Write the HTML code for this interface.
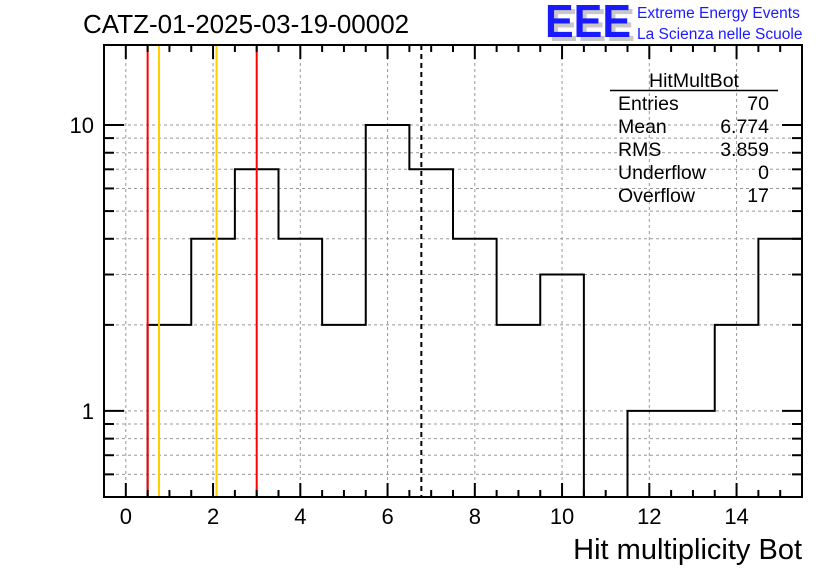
<!DOCTYPE html>
<html><head><meta charset="utf-8"><style>
html,body{margin:0;padding:0;background:#fff;}
svg{display:block;font-family:"Liberation Sans",sans-serif;}
</style></head><body>
<svg id="chart" width="836" height="572" viewBox="0 0 836 572">
<rect width="836" height="572" fill="#fff"/>
<text x="83" y="33" font-size="26">CATZ-01-2025-03-19-00002</text>
<g>
<text x="549" y="41" font-size="46" font-weight="bold" fill="#c8c8c8" textLength="86" lengthAdjust="spacingAndGlyphs">EEE</text>
<text x="545" y="37" font-size="46" font-weight="bold" fill="#1a1aff" textLength="86" lengthAdjust="spacingAndGlyphs">EEE</text>
<text x="637" y="18" font-size="15.5" fill="#1a1aff">Extreme Energy Events</text>
<text x="637" y="39" font-size="15.5" fill="#1a1aff">La Scienza nelle Scuole</text>
</g>
<g id="grid"></g>
<g id="marks"></g>
<g id="axes"></g>
<g font-size="19.5">
<text x="694" y="87" text-anchor="middle">HitMultBot</text>
<line x1="610" y1="90.5" x2="778" y2="90.5" stroke="#000" stroke-width="1.5"/>
<text x="618" y="110">Entries</text><text x="769" y="110" text-anchor="end">70</text>
<text x="618" y="133">Mean</text><text x="769" y="133" text-anchor="end">6.774</text>
<text x="618" y="156">RMS</text><text x="769" y="156" text-anchor="end">3.859</text>
<text x="618" y="179">Underflow</text><text x="769" y="179" text-anchor="end">0</text>
<text x="618" y="202">Overflow</text><text x="769" y="202" text-anchor="end">17</text>
</g>
<text x="802" y="559" font-size="29" text-anchor="end">Hit multiplicity Bot</text>
</svg>
<script>
const binCenters=[0,1,2,3,4,5,6,7,8,9,10,11,12,13,14,15];
const binCounts=[0,2,4,7,4,2,10,7,4,2,3,0,1,1,2,4];
const xTickLabels=[0,2,4,6,8,10,12,14];
const yTickLabels=[1,10];
const redLines=[0.5,3.0];
const yellowLines=[0.76,2.08];
const meanLine=[6.774];
const L=104,R=802,T=45,B=497,XMIN=-0.5,XMAX=15.5,YMIN=0.5,YMAX=19.05;
const NS='http://www.w3.org/2000/svg';
function X(v){return L+(v-XMIN)/(XMAX-XMIN)*(R-L);}
function Y(v){return B-(Math.log10(v)-Math.log10(YMIN))/(Math.log10(YMAX)-Math.log10(YMIN))*(B-T);}
function mk(tag,attrs,parent){const e=document.createElementNS(NS,tag);for(const k in attrs)e.setAttribute(k,attrs[k]);parent.appendChild(e);return e;}
const grid=document.getElementById('grid'),marks=document.getElementById('marks'),axes=document.getElementById('axes');
const yAll=[0.6,0.7,0.8,0.9,1,2,3,4,5,6,7,8,9,10];
for(const v of xTickLabels){const l=mk('line',{x1:X(v),x2:X(v),y1:T,y2:B,stroke:'#999','stroke-dasharray':'3,3','stroke-width':1},grid);

}
for(const v of yAll){const l=mk('line',{x1:L,x2:R,y1:Y(v),y2:Y(v),stroke:'#999','stroke-dasharray':'3,3','stroke-width':1},grid);

}
let d='';let prev=null;
for(let i=0;i<binCenters.length;i++){
 const c=binCenters[i],n=binCounts[i];
 const x0=X(c-0.5),x1=X(c+0.5);
 const y=n>0?Y(n):B;
 if(prev===null){d+='M'+x0+','+y;}else{d+='L'+x0+','+y;}
 d+='L'+x1+','+y;prev=y;
}
const h=mk('path',{d:d,fill:'none',stroke:'#000','stroke-width':2},marks);


for(const v of redLines){const l=mk('line',{x1:X(v),x2:X(v),y1:T,y2:B,stroke:'#ff0000','stroke-width':2},marks);

}
for(const v of yellowLines){const l=mk('line',{x1:X(v),x2:X(v),y1:T,y2:B,stroke:'#ffcc00','stroke-width':2},marks);

}
for(const v of meanLine){const l=mk('line',{x1:X(v),x2:X(v),y1:T,y2:B,stroke:'#000','stroke-width':2,'stroke-dasharray':'5,4'},marks);

}
const f=mk('rect',{x:L,y:T,width:R-L,height:B-T,fill:'none',stroke:'#000','stroke-width':2},axes);


for(let v=0;v<=15;v+=0.5){const major=(v%2===0);const len=major?14:7;
 mk('line',{x1:X(v),x2:X(v),y1:B,y2:B-len,stroke:'#000','stroke-width':2},axes);
 mk('line',{x1:X(v),x2:X(v),y1:T,y2:T+len,stroke:'#000','stroke-width':2},axes);}
for(const v of xTickLabels){const t=mk('text',{x:X(v),y:B+27,'font-size':22,'text-anchor':'middle'},axes);t.textContent=v;

}
for(const v of yAll){const major=(v===1||v===10);const len=major?20:10;
 mk('line',{x1:L,x2:L+len,y1:Y(v),y2:Y(v),stroke:'#000','stroke-width':2},axes);
 mk('line',{x1:R,x2:R-len,y1:Y(v),y2:Y(v),stroke:'#000','stroke-width':2},axes);}
for(const v of yTickLabels){const t=mk('text',{x:L-10,y:Y(v)+8,'font-size':22,'text-anchor':'end'},axes);t.textContent=v;

}
</script>
</body></html>
